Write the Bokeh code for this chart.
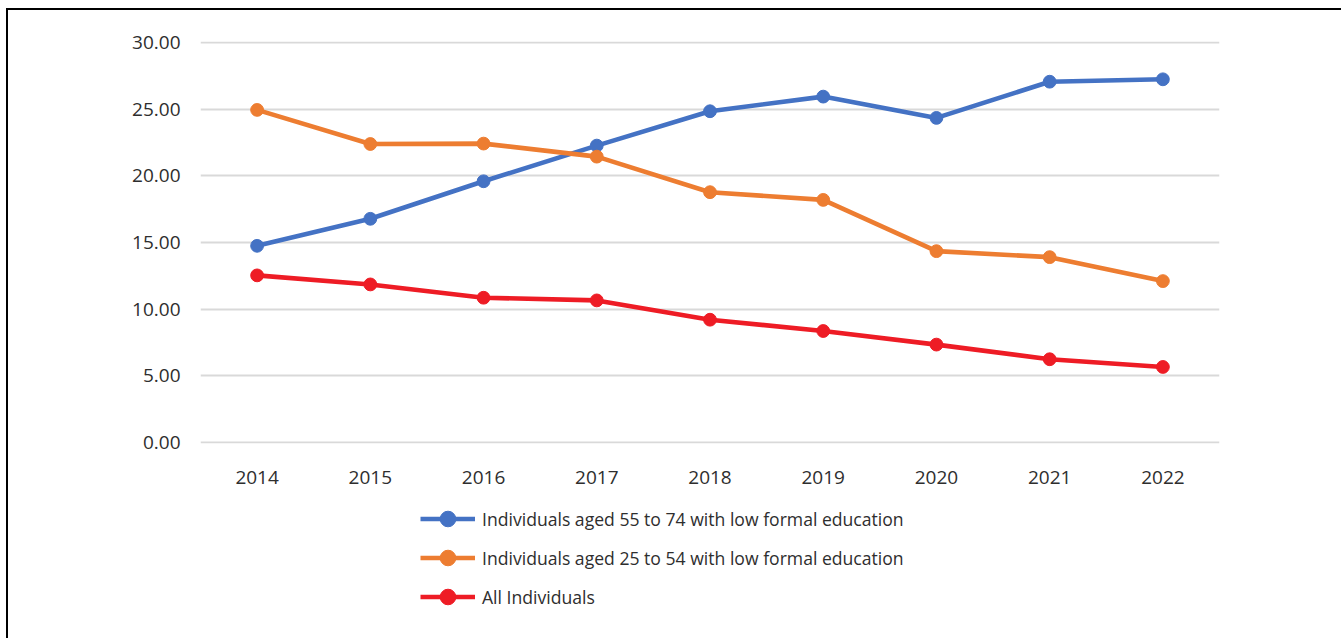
from bokeh.plotting import figure
from bokeh.layouts import column
from bokeh.models import (FactorRange, Range1d, FixedTicker, NumeralTickFormatter,
                          Legend, LegendItem, ColumnDataSource)
from bokeh.embed import file_html
from bokeh.resources import INLINE

years = ["2014", "2015", "2016", "2017", "2018", "2019", "2020", "2021", "2022"]
aged_55_74 = [14.75, 16.78, 19.6, 22.28, 24.86, 25.96, 24.36, 27.08, 27.26]
aged_25_54 = [24.96, 22.4, 22.43, 21.45, 18.78, 18.2, 14.35, 13.9, 12.1]
all_individuals = [12.53, 11.85, 10.85, 10.65, 9.2, 8.35, 7.33, 6.23, 5.65]
y_ticks = [0, 5, 10, 15, 20, 25, 30]

series = [
    ("Individuals aged 55 to 74 with low formal education", aged_55_74, "#4472C4"),
    ("Individuals aged 25 to 54 with low formal education", aged_25_54, "#ED7D31"),
    ("All Individuals", all_individuals, "#EE1C25"),
]

FONT = "Open Sans"
TXT = "#2e2e2e"
LW = 4.6

x_range = FactorRange(*years, range_padding=0)
p = figure(width=1333, height=490, x_range=x_range,
           y_range=Range1d(-0.1, 30.1), output_backend="svg", toolbar_location=None,
           min_border_left=192, min_border_right=122, min_border_top=31, min_border_bottom=57)
p.outline_line_color = None
p.background_fill_color = "white"
p.border_fill_color = "white"

p.xgrid.grid_line_color = None
p.ygrid.grid_line_color = "#d9d9d9"
p.ygrid.grid_line_width = 2

p.yaxis.ticker = FixedTicker(ticks=y_ticks)
p.yaxis.formatter = NumeralTickFormatter(format="0.00")
for ax in (p.xaxis[0], p.yaxis[0]):
    ax.axis_line_color = None
    ax.major_tick_line_color = None
    ax.minor_tick_line_color = None
    ax.major_tick_out = 0
    ax.major_tick_in = 0
    ax.major_label_text_font = FONT
    ax.major_label_text_font_size = "19px"
    ax.major_label_text_color = TXT
p.yaxis.major_label_standoff = 20
p.xaxis.major_label_standoff = 27

# legend panel below the chart (its own frame keeps the legend unclipped);
# the series are re-used there only as legend keys, outside its visible y range
p2 = figure(width=1333, height=138, x_range=x_range, y_range=Range1d(-100, -99),
            x_axis_type=None, y_axis_type=None, output_backend="svg", toolbar_location=None,
            min_border_left=192, min_border_right=122, min_border_top=0, min_border_bottom=0)
p2.outline_line_color = None
p2.xgrid.grid_line_color = None
p2.ygrid.grid_line_color = None

items = []
for name, vals, color in series:
    src = ColumnDataSource(dict(x=years, y=vals))
    p.line("x", "y", source=src, line_color=color, line_width=LW)
    p.scatter("x", "y", source=src, size=12.8, fill_color=color, line_color=color)
    ln = p2.line("x", "y", source=src, line_color=color, line_width=LW)
    sc = p2.scatter("x", "y", source=src, size=12.8, fill_color=color, line_color=color)
    items.append(LegendItem(label=name, renderers=[ln, sc]))

lg = Legend(items=items, location=(220, 22), orientation="vertical",
            glyph_width=55, glyph_height=39, label_standoff=7, spacing=0,
            label_text_font=FONT, label_text_font_size="17.6px",
            label_text_color=TXT, padding=0, margin=0,
            border_line_color=None, background_fill_alpha=0)
p2.add_layout(lg, "center")

layout = column(p, p2, spacing=0)
layout.styles = {"margin-left": "6px", "margin-top": "8px",
                 "border-left": "2px solid black", "border-top": "2px solid black"}

open("out.html", "w").write(file_html(layout, INLINE))
